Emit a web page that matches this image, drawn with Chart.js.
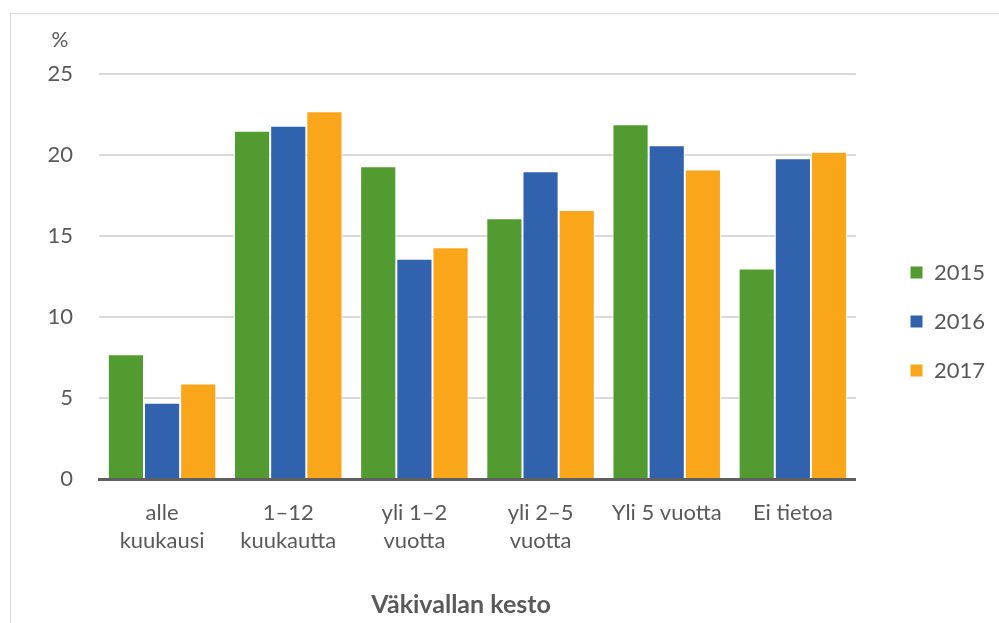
<!DOCTYPE html>
<html>
<head>
<meta charset="utf-8">
<script src="https://cdn.jsdelivr.net/npm/chart.js"></script>
<style>
  html, body { margin: 0; padding: 0; background: #fff; }
  body { width: 999px; height: 623px; overflow: hidden; position: relative; }
  #frame {
    position: absolute; left: 10px; top: 13px; width: 1100px; height: 700px;
    border: 1px solid #d9d9d9; box-sizing: border-box;
  }
  #wrap { position: absolute; left: 0; top: 0; width: 999px; height: 623px; }
</style>
</head>
<body>
<div id="frame"></div>
<div id="wrap"><canvas id="chart"></canvas></div>
<script>
const categories = [
  ["alle", "kuukausi"],
  ["1–12", "kuukautta"],
  ["yli 1–2", "vuotta"],
  ["yli 2–5", "vuotta"],
  "Yli 5 vuotta",
  "Ei tietoa"
];
const years = ["2015", "2016", "2017"];
const values2015 = [7.7, 21.5, 19.3, 16.1, 21.9, 13.0];
const values2016 = [4.7, 21.8, 13.6, 19.0, 20.6, 19.8];
const values2017 = [5.9, 22.7, 14.3, 16.6, 19.1, 20.2];
const colors = ["#529b31", "#3162ae", "#f9a61b"];
const yTicks = [0, 5, 10, 15, 20, 25];

const textColor = "#595959";
const fontFamily = "Lato, 'Open Sans', sans-serif";

// "%" unit label above the y axis and the axis title under the labels
const extraText = {
  id: "extraText",
  afterDraw(chart) {
    const ctx = chart.ctx;
    ctx.save();
    ctx.fillStyle = textColor;
    ctx.textAlign = "center";
    ctx.textBaseline = "middle";
    ctx.font = "21px " + fontFamily;
    ctx.fillText("%", 60, 40);
    ctx.font = "bold 25px " + fontFamily;
    ctx.fillText("Väkivallan kesto", 461, 605);
    ctx.restore();
  }
};

// move legend block to where it sits in the original
const legendShift = {
  id: "legendShift",
  afterLayout(chart) {
    const lg = chart.legend;
    const dx = 883 - lg.left;
    lg.left += dx;
    lg.right += dx;
    lg.top -= 27;
    lg.bottom -= 27;
  }
};

new Chart(document.getElementById("chart"), {
  type: "bar",
  data: {
    labels: categories,
    datasets: [values2015, values2016, values2017].map((vals, i) => ({
      label: years[i],
      data: vals,
      backgroundColor: colors[i],
      borderColor: "#ffffff",
      borderWidth: 1,
      categoryPercentage: 0.86,
      barPercentage: 1.0
    }))
  },
  options: {
    responsive: true,
    maintainAspectRatio: false,
    animation: false,
    layout: { padding: { left: 10, right: 31, top: 74, bottom: 0 } },
    plugins: {
      legend: {
        position: "right",
        labels: {
          boxWidth: 13,
          boxHeight: 13,
          padding: 27,
          color: textColor,
          font: { family: fontFamily, size: 22 }
        }
      },
      tooltip: { enabled: false }
    },
    scales: {
      x: {
        grid: { display: false },
        border: { color: "#5f5f5f", width: 3 },
        ticks: {
          color: textColor,
          padding: 12,
          maxRotation: 0,
          autoSkip: false,
          font: { family: fontFamily, size: 22, lineHeight: 1.27 }
        },
        afterFit(scale) { scale.height = 144; }
      },
      y: {
        min: 0,
        max: 25,
        border: { display: false },
        grid: { color: "#d9d9d9", lineWidth: 2, drawTicks: false },
        afterBuildTicks(scale) { scale.ticks = yTicks.map(v => ({ value: v })); },
        ticks: {
          color: textColor,
          padding: 26,
          font: { family: fontFamily, size: 22 }
        },
        afterFit(scale) { scale.width = 89; }
      }
    }
  },
  plugins: [extraText, legendShift]
});
</script>
</body>
</html>
